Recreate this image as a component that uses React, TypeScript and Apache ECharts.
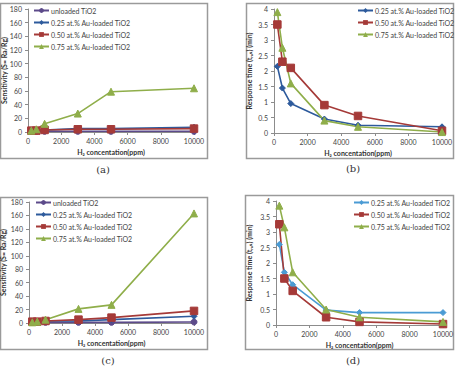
import React, { useEffect, useRef } from "react";
import * as echarts from "echarts";

// H2 concentrations (ppm) shared by every panel
const concentrations = [200, 500, 1000, 3000, 5000, 10000];

const seriesNames = [
  "unloaded TiO2",
  "0.25 at.% Au-loaded TiO2",
  "0.50 at.% Au-loaded TiO2",
  "0.75 at.% Au-loaded TiO2",
];

// (a) sensitivity
const sensA_unloaded = [1, 1, 1, 1, 1, 1];
const sensA_025 = [3, 3, 3, 5, 5, 7];
const sensA_050 = [2, 2, 3, 4, 4, 5];
const sensA_075 = [2, 4, 12, 27, 59, 64];

// (b) response time
const respB_025 = [2.15, 1.45, 0.95, 0.45, 0.25, 0.2];
const respB_050 = [3.5, 2.3, 2.1, 0.9, 0.55, 0.07];
const respB_075 = [3.9, 2.75, 1.6, 0.4, 0.2, 0.03];

// (c) sensitivity
const sensC_unloaded = [1, 1, 1, 1, 1, 1.5];
const sensC_025 = [2, 2, 3, 3, 5, 10];
const sensC_050 = [2, 2, 3, 5, 8, 18];
const sensC_075 = [1, 2, 5, 21, 27, 163];

// (d) response time
const respD_025 = [2.6, 1.7, 1.3, 0.48, 0.4, 0.4];
const respD_050 = [3.25, 1.5, 1.1, 0.25, 0.1, 0.03];
const respD_075 = [3.85, 3.15, 1.7, 0.5, 0.25, 0.1];

const FONT = "Lato, 'DejaVu Sans', sans-serif";
const AXIS_GRAY = "#8c8c8c";

const colors = {
  unloaded: "#5c4a8a",
  b025: "#2d5a9c",
  b025light: "#4a9bd4",
  r050: "#a53a38",
  g075: "#8fae4a",
};

type SeriesDef = {
  name: string;
  values: number[];
  color: string;
  symbol: string;
  size: number;
};

type PanelDef = {
  left: number;
  top: number;
  width: number;
  height: number;
  frame: { x: number; y: number; w: number; h: number };
  grid: { left: number; top: number; width: number; height: number };
  yMax: number;
  yInterval: number;
  yName: string;
  yNameGap: number;
  legend: { left: number; top: number };
  label: string;
  labelPos: { x: number; y: number };
  series: SeriesDef[];
};

const mk = (name: string, values: number[], color: string, symbol: string, size: number): SeriesDef => ({
  name,
  values,
  color,
  symbol,
  size,
});

const SENS_NAME = "Sensitivity (S= Ra/Rg)";
const RESP_NAME = "Response time (tᵣₑₛ) (min)";

const panels: PanelDef[] = [
  {
    left: 0,
    top: 0,
    width: 229,
    height: 180,
    frame: { x: 0.5, y: 3.5, w: 207, h: 155 },
    grid: { left: 28, top: 9, width: 166, height: 123 },
    yMax: 180,
    yInterval: 20,
    yName: SENS_NAME,
    yNameGap: 20.5,
    legend: { left: 33, top: 7 },
    label: "(a)",
    labelPos: { x: 103, y: 169 },
    series: [
      mk(seriesNames[0], sensA_unloaded, colors.unloaded, "circle", 6),
      mk(seriesNames[1], sensA_025, colors.b025, "diamond", 6),
      mk(seriesNames[2], sensA_050, colors.r050, "rect", 7.5),
      mk(seriesNames[3], sensA_075, colors.g075, "triangle", 7),
    ],
  },
  {
    left: 229,
    top: 0,
    width: 230,
    height: 180,
    frame: { x: 17.5, y: 3.5, w: 207, h: 155 },
    grid: { left: 45, top: 9, width: 168, height: 124 },
    yMax: 4,
    yInterval: 0.5,
    yName: RESP_NAME,
    yNameGap: 22,
    legend: { left: 128, top: 7 },
    label: "(b)",
    labelPos: { x: 124, y: 168 },
    series: [
      mk(seriesNames[1], respB_025, colors.b025, "diamond", 6),
      mk(seriesNames[2], respB_050, colors.r050, "rect", 7.5),
      mk(seriesNames[3], respB_075, colors.g075, "triangle", 7),
    ],
  },
  {
    left: 0,
    top: 180,
    width: 229,
    height: 186,
    frame: { x: 0.5, y: 17.5, w: 207, h: 152 },
    grid: { left: 29, top: 22, width: 165, height: 121 },
    yMax: 180,
    yInterval: 20,
    yName: SENS_NAME,
    yNameGap: 22.5,
    legend: { left: 35, top: 19 },
    label: "(c)",
    labelPos: { x: 108, y: 180.5 },
    series: [
      mk(seriesNames[0], sensC_unloaded, colors.unloaded, "circle", 6),
      mk(seriesNames[1], sensC_025, colors.b025, "diamond", 6),
      mk(seriesNames[2], sensC_050, colors.r050, "rect", 7.5),
      mk(seriesNames[3], sensC_075, colors.g075, "triangle", 7),
    ],
  },
  {
    left: 229,
    top: 180,
    width: 230,
    height: 186,
    frame: { x: 16.5, y: 15.5, w: 208, h: 154 },
    grid: { left: 47, top: 21, width: 167, height: 124 },
    yMax: 4,
    yInterval: 0.5,
    yName: RESP_NAME,
    yNameGap: 24,
    legend: { left: 124, top: 19 },
    label: "(d)",
    labelPos: { x: 124, y: 180.5 },
    series: [
      mk(seriesNames[1], respD_025, colors.b025light, "diamond", 6),
      mk(seriesNames[2], respD_050, colors.r050, "rect", 7.5),
      mk(seriesNames[3], respD_075, colors.g075, "triangle", 7),
    ],
  },
];

function buildOption(p: PanelDef): any {
  return {
    animation: false,
    backgroundColor: "#ffffff",
    grid: { ...p.grid, containLabel: false, outerBoundsMode: "none" },
    legend: {
      left: p.legend.left,
      top: p.legend.top,
      orient: "vertical",
      itemWidth: 15,
      itemHeight: 6,
      itemGap: 5,
      padding: 0,
      textStyle: { fontFamily: FONT, fontSize: 7, color: "#444", lineHeight: 7, padding: [0, 0, 0, -3] },
      data: p.series.map((s) => s.name),
    },
    xAxis: {
      type: "value",
      min: 0,
      max: 10000,
      interval: 2000,
      name: "H₂ concentation(ppm)",
      nameLocation: "middle",
      nameGap: 16,
      nameMoveOverlap: false,
      nameTextStyle: { fontFamily: FONT, fontSize: 7, fontWeight: "bold", color: "#333" },
      axisLine: { show: true, lineStyle: { color: AXIS_GRAY, width: 1 } },
      axisTick: { show: true, length: 3, lineStyle: { color: AXIS_GRAY } },
      axisLabel: {
        fontFamily: FONT,
        fontSize: 7,
        color: "#444",
        margin: 5,
        formatter: (v: number) => String(v),
      },
      splitLine: { show: false },
    },
    yAxis: {
      type: "value",
      min: 0,
      max: p.yMax,
      interval: p.yInterval,
      name: p.yName,
      nameLocation: "middle",
      nameGap: p.yNameGap,
      nameRotate: 90,
      nameMoveOverlap: false,
      nameTextStyle: { fontFamily: FONT, fontSize: 7, fontWeight: "bold", color: "#333" },
      axisLine: { show: true, lineStyle: { color: AXIS_GRAY, width: 1 } },
      axisTick: { show: true, length: 3, lineStyle: { color: AXIS_GRAY } },
      axisLabel: {
        fontFamily: FONT,
        fontSize: 7,
        color: "#444",
        margin: 6,
        formatter: (v: number) => String(v),
      },
      splitLine: { show: false },
    },
    graphic: [
      {
        type: "rect",
        z: -10,
        silent: true,
        shape: { x: p.frame.x, y: p.frame.y, width: p.frame.w, height: p.frame.h },
        style: { fill: "#ffffff", stroke: "#9a9a9a", lineWidth: 1.5 },
      },
      {
        type: "text",
        silent: true,
        x: p.labelPos.x,
        y: p.labelPos.y,
        style: {
          text: p.label,
          fontFamily: "'DejaVu Serif', 'Liberation Serif', serif",
          fontSize: 10,
          fill: "#333",
          align: "center",
          verticalAlign: "middle",
        },
      },
    ],
    series: p.series.map((s) => ({
      type: "line",
      name: s.name,
      data: concentrations.map((c, i) => [c, s.values[i]]),
      symbol: s.symbol,
      symbolSize: s.size,
      showSymbol: true,
      lineStyle: { color: s.color, width: 1.6 },
      itemStyle: { color: s.color, borderColor: s.color },
      emphasis: { disabled: true },
    })),
  };
}

function Panel({ p }: { p: PanelDef }) {
  const ref = useRef<HTMLDivElement>(null);
  useEffect(() => {
    if (!ref.current) return;
    const chart = echarts.init(ref.current, undefined, { renderer: "svg" });
    chart.setOption(buildOption(p));
    return () => chart.dispose();
  }, [p]);
  return (
    <div
      ref={ref}
      style={{ position: "absolute", left: p.left, top: p.top, width: p.width, height: p.height }}
    />
  );
}

export default function App() {
  return (
    <div style={{ position: "fixed", left: 0, top: 0, width: 459, height: 366, background: "#fff" }}>
      {panels.map((p) => (
        <Panel key={p.label} p={p} />
      ))}
    </div>
  );
}
